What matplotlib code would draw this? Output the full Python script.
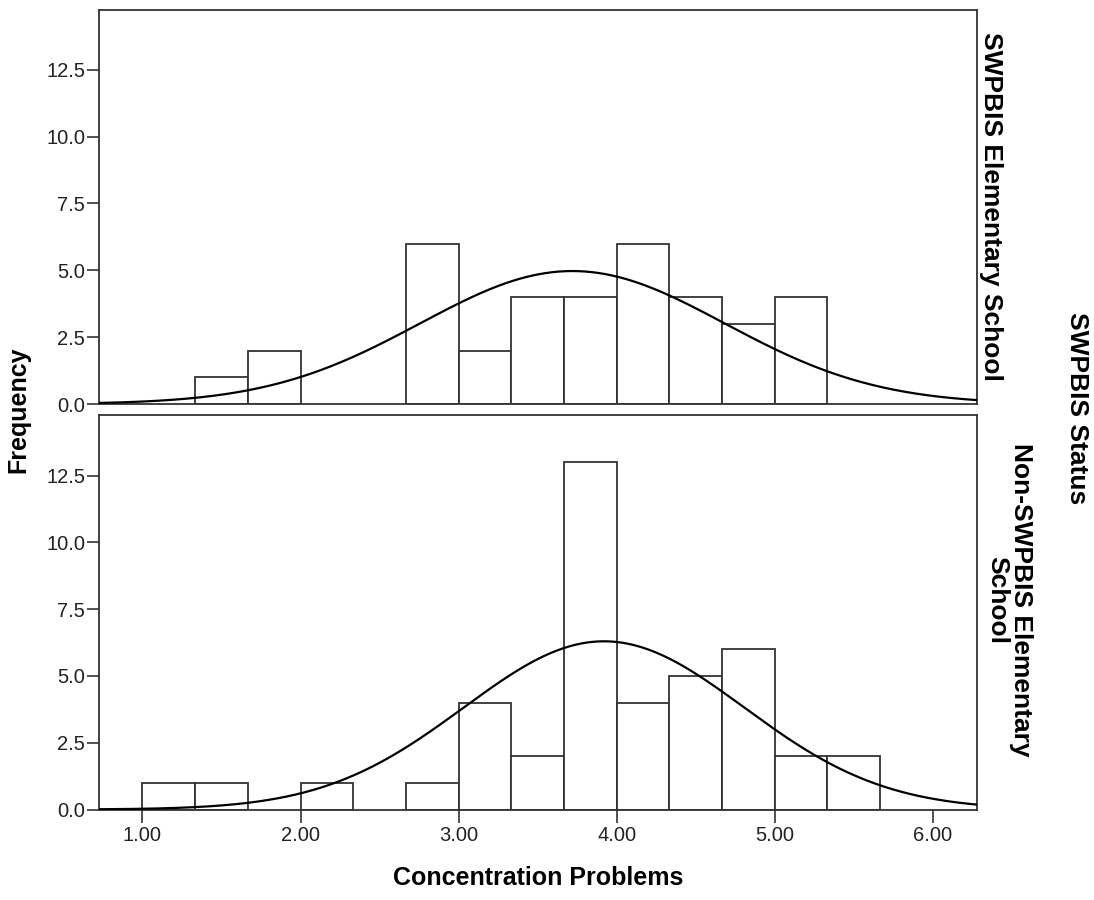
import numpy as np
import matplotlib.pyplot as plt

plt.rcParams['font.family'] = ['Liberation Sans', 'DejaVu Sans']

# histogram bins (left edges, width 1/3)
bin_left = [1.0, 4/3, 5/3, 2.0, 7/3, 8/3, 3.0, 10/3, 11/3, 4.0, 13/3, 14/3, 5.0, 16/3]
bin_width = 1/3

groups = ["SWPBIS Elementary School", "Non-SWPBIS Elementary\nSchool"]
counts_swpbis = [0, 1, 2, 0, 0, 6, 2, 4, 4, 6, 4, 3, 4, 0]
counts_non = [1, 1, 0, 1, 0, 1, 4, 2, 13, 4, 5, 6, 2, 2]

# normal curve fits (mean, sd)
means = [3.72, 3.92]
sds = [0.963, 0.887]

xticks = [1.0, 2.0, 3.0, 4.0, 5.0, 6.0]
yticks = [0.0, 2.5, 5.0, 7.5, 10.0, 12.5]

W, H = 1094, 900
fig = plt.figure(figsize=(W / 100, H / 100), dpi=100)

ax_top = fig.add_axes([99 / W, 1 - 404 / H, 878 / W, 394.5 / H])
ax_bot = fig.add_axes([99 / W, 1 - 809.5 / H, 878 / W, 394 / H])

edge = '#333333'
xx = np.linspace(0.725, 6.28, 400)

for ax, counts, m, s in [(ax_top, counts_swpbis, means[0], sds[0]),
                         (ax_bot, counts_non, means[1], sds[1])]:
    lefts = [b for b, c in zip(bin_left, counts) if c > 0]
    hts = [c for c in counts if c > 0]
    ax.bar(lefts, hts, width=bin_width, align='edge', facecolor='white',
           edgecolor=edge, linewidth=1.3, zorder=2)
    n = sum(counts)
    yy = n * bin_width / (s * np.sqrt(2 * np.pi)) * np.exp(-0.5 * ((xx - m) / s) ** 2)
    ax.plot(xx, yy, color='black', lw=1.6, zorder=3)
    ax.set_xlim(0.725, 6.28)
    ax.set_ylim(0, 14.75)
    ax.set_yticks(yticks)
    ax.set_yticklabels([f"{v:.1f}" for v in yticks])
    ax.tick_params(axis='y', direction='out', length=9, width=1.2, color=edge,
                   labelsize=14.5, pad=1, labelcolor='#222222')
    for sp in ax.spines.values():
        sp.set_color(edge)
        sp.set_linewidth(1.3)

ax_top.set_xticks([])
ax_bot.set_xticks(xticks)
ax_bot.set_xticklabels([f"{v:.2f}" for v in xticks])
ax_bot.tick_params(axis='x', direction='out', length=9, width=1.2, color=edge,
                   labelsize=14.5, pad=3, labelcolor='#222222')

fig.text(18 / W, 1 - 410 / H, "Frequency", rotation=90, ha='center', va='center',
         fontsize=18, fontweight='bold')
fig.text(538 / W, 1 - 878 / H, "Concentration Problems", ha='center', va='center',
         fontsize=18, fontweight='bold')

fig.text(991 / W, 1 - 206 / H, groups[0], rotation=-90, ha='center', va='center',
         fontsize=19, fontweight='bold', rotation_mode='anchor')
fig.text(1009 / W, 1 - 600 / H, groups[1], rotation=-90, ha='center', va='center',
         fontsize=19, fontweight='bold', multialignment='center', linespacing=0.95,
         rotation_mode='anchor')
fig.text(1077 / W, 1 - 408 / H, "SWPBIS Status", rotation=-90, ha='center', va='center',
         fontsize=19, fontweight='bold', rotation_mode='anchor')

fig.savefig("out.png", dpi=100)
